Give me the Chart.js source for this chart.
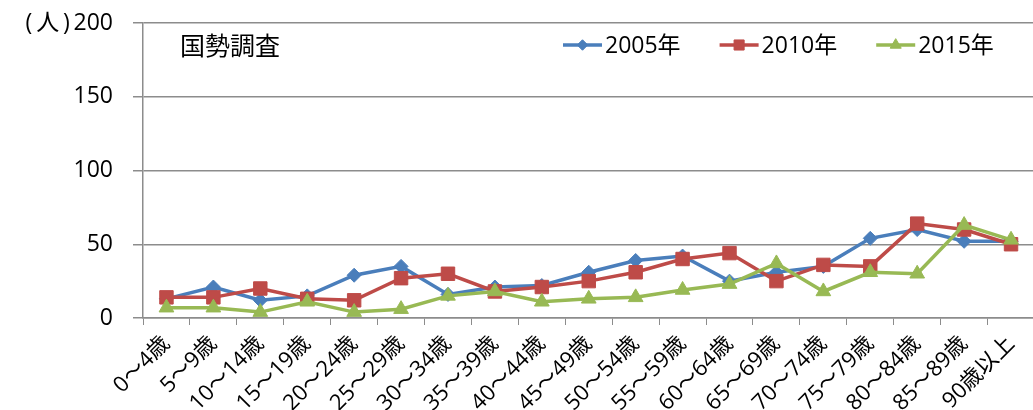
<!DOCTYPE html>
<html>
<head>
<meta charset="utf-8">
<script src="https://cdn.jsdelivr.net/npm/chart.js@4/dist/chart.umd.min.js"></script>
<style>
  html, body { margin: 0; padding: 0; background: #fff; overflow: hidden; }
  #wrap { width: 1045px; height: 410px; }
</style>
</head>
<body>
<div id="wrap"><canvas id="chart" width="1045" height="410"></canvas></div>
<script>
const ageGroups = ['0～4歳', '5～9歳', '10～14歳', '15～19歳', '20～24歳', '25～29歳', '30～34歳',
  '35～39歳', '40～44歳', '45～49歳', '50～54歳', '55～59歳', '60～64歳', '65～69歳', '70～74歳',
  '75～79歳', '80～84歳', '85～89歳', '90歳以上'];
const pop2005 = [13, 21, 12, 15, 29, 35, 16, 21, 22, 31, 39, 42, 25, 31, 35, 54, 60, 52, 52];
const pop2010 = [14, 14, 20, 13, 12, 27, 30, 18, 21, 25, 31, 40, 44, 25, 36, 35, 64, 60, 50];
const pop2015 = [7, 7, 4, 11, 4, 6, 15, 18, 11, 13, 14, 19, 23, 37, 18, 31, 30, 63, 53];
const yTicks = [0, 50, 100, 150, 200];
const seriesNames = ['2005年', '2010年', '2015年'];
const chartTitle = '国勢調査';
const unitLabel = '(\u2009人\u2009)\u2009';

const FONT = '"Open Sans", "Noto Sans CJK JP", sans-serif';
const axisGray = '#8c8c8c';

// title + legend drawn inside the plot area, like the original
const overlay = {
  id: 'overlay',
  afterDraw(chart) {
    const ctx = chart.ctx;
    const area = chart.chartArea;
    ctx.save();
    ctx.fillStyle = '#000';
    ctx.textBaseline = 'middle';
    ctx.font = '25px ' + FONT;
    ctx.fillText(chartTitle, area.left + 37, area.top + 25);

    ctx.font = '23px ' + FONT;
    let x = area.left + 420;
    const y = area.top + 22;
    chart.data.datasets.forEach(ds => {
      ctx.strokeStyle = ds.borderColor;
      ctx.lineWidth = 3.5;
      ctx.beginPath();
      ctx.moveTo(x, y);
      ctx.lineTo(x + 39, y);
      ctx.stroke();
      ctx.fillStyle = ds.pointBackgroundColor;
      ctx.strokeStyle = ds.pointBorderColor;
      ctx.lineWidth = 1;
      Chart.helpers.drawPoint(ctx, {
        pointStyle: ds.pointStyle,
        radius: ds.pointRadius * 0.75,
        borderWidth: 1
      }, x + 19.5, y);
      ctx.fillStyle = '#000';
      ctx.fillText(ds.label, x + 42, y + 1);
      x += 42 + ctx.measureText(ds.label).width + 39;
    });
    ctx.restore();
  }
};

function series(label, data, color, style, radius, order) {
  return {
    label, data, order,
    borderColor: color,
    backgroundColor: color,
    pointBackgroundColor: color,
    pointBorderColor: color,
    borderWidth: 3.5,
    pointStyle: style,
    pointRadius: radius,
    pointBorderWidth: 1,
    tension: 0
  };
}

new Chart(document.getElementById('chart'), {
  type: 'line',
  data: {
    labels: ageGroups,
    datasets: [
      series(seriesNames[0], pop2005, '#4a7ebb', 'rectRot', 7, 3),
      series(seriesNames[1], pop2010, '#be4b48', 'rect', 9.5, 2),
      series(seriesNames[2], pop2015, '#98b954', 'triangle', 8.5, 1)
    ]
  },
  options: {
    responsive: false,
    animation: false,
    layout: { padding: { top: 23, right: 6, left: 0, bottom: 0 } },
    plugins: { legend: { display: false }, tooltip: { enabled: false } },
    scales: {
      x: {
        offset: true,
        grid: { offset: true, drawOnChartArea: false, drawTicks: true, tickLength: 7, color: axisGray },
        border: { color: axisGray, width: 1.5 },
        ticks: {
          color: '#000',
          font: { family: FONT, size: 22 },
          minRotation: 45, maxRotation: 45,
          autoSkip: false,
          padding: 6
        },
        afterFit(scale) { scale.height = 92; }
      },
      y: {
        min: yTicks[0],
        max: yTicks[yTicks.length - 1],
        afterBuildTicks(scale) { scale.ticks = yTicks.map(v => ({ value: v })); },
        grid: { color: axisGray, lineWidth: 1.5, tickLength: 10 },
        border: { color: axisGray, width: 1.5 },
        ticks: {
          color: '#000',
          font: { family: FONT, size: 23 },
          padding: 20,
          callback: v => v === yTicks[yTicks.length - 1] ? unitLabel + v : v
        },
        afterFit(scale) {
          scale.width = 143;
          scale.paddingTop = 12;
          scale.paddingBottom = 12;
        }
      }
    }
  },
  plugins: [overlay]
});
</script>
</body>
</html>
